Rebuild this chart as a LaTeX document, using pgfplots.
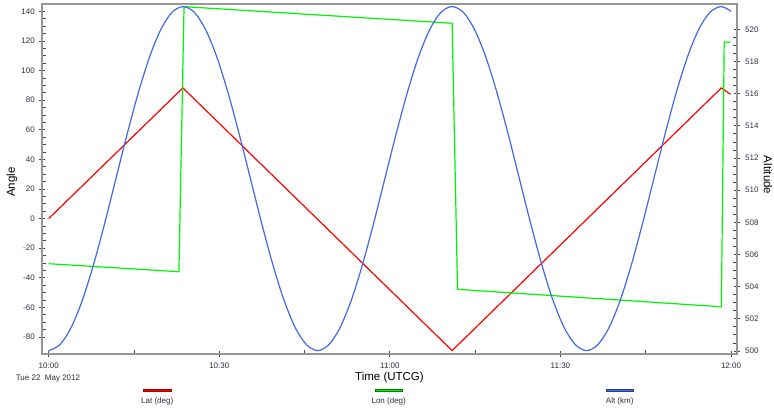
\documentclass[border=0pt]{standalone}
\usepackage{pgfplots}
\pgfplotsset{compat=1.18}
\usepackage{fontspec}
\setmainfont{Liberation Sans}

\definecolor{latred}{RGB}{255,0,0}
\definecolor{longreen}{RGB}{0,245,0}
\definecolor{altblue}{RGB}{65,105,225}
\definecolor{framegray}{RGB}{150,150,150}
\definecolor{tickgray}{RGB}{70,70,70}
\definecolor{labelink}{RGB}{45,45,65}

\newcommand{\smallfont}{\fontsize{8}{9.5}\selectfont}
\newcommand{\labelfont}{\fontsize{11.5}{13}\selectfont}

\pgfplotsset{
  orbitframe/.style={
    at={(0pt,0pt)}, anchor=south west,
    scale only axis, width=695pt, height=350pt,
    xmin=-1.18, xmax=121.05,
    axis line style={framegray, line width=1.6pt},
    tick style={tickgray, line width=0.8pt},
    tick align=inside,
    major tick length=6.5pt, minor tick length=3.8pt,
    ticklabel style={font=\smallfont, text=labelink},
    label style={font=\labelfont, text=black},
    /pgf/number format/assume math mode=true,
  },
}

\begin{document}
\begin{tikzpicture}
\path[use as bounding box] (-42pt,-58pt) rectangle (732pt,354pt);

% Latitude and longitude against the left (Angle) scale
\begin{axis}[
  orbitframe,
  ymin=-91.5, ymax=145,
  xtick={0,30,60,90,120},
  xticklabels={10:00,10:30,11:00,11:30,12:00},
  minor x tick num=1,
  ytick={-80,-60,...,140},
  minor y tick num=3,
  xtick pos=left, ytick pos=left,
  major x tick style={yshift=-3.5pt},
  major y tick style={xshift=-3.2pt},
  xticklabel style={inner sep=0pt, yshift=-9pt, anchor=north},
  yticklabel style={inner sep=0pt, xshift=-7pt, anchor=east},
  xlabel={Time (UTCG)},
  ylabel={Angle},
  xlabel style={at={(axis description cs:0.5,-0.068)}, anchor=center},
  ylabel style={at={(axis description cs:-0.0432,0.491)}, anchor=center},
]
\addplot[latred, line width=1.2pt] coordinates {
  (0,0) (23.6,88.3) (70.95,-89.2) (118.3,88.3) (119.9,84.0)
};
\addplot[longreen, line width=1.2pt] coordinates {
  (0,-30.5) (22.9,-35.9) (23.8,143.2) (70.95,132.0) (71.9,-47.8)
  (118.3,-59.6) (118.8,119.3) (119.9,119.1)
};
\end{axis}

% Altitude against the right scale
\begin{axis}[
  orbitframe,
  ymin=499.81, ymax=521.58,
  axis x line=none,
  axis y line*=right,
  ytick={500,502,...,520},
  minor y tick num=3,
  major y tick style={xshift=3.2pt},
  yticklabel style={inner sep=0pt, xshift=8pt, anchor=west},
  ylabel={Altitude},
  ylabel style={at={(axis description cs:1.0446,0.511)}, anchor=center, rotate=180},
]
\addplot[altblue, line width=1.2pt, smooth] coordinates {
  (0,500.02) (1.971,500.39) (3.942,501.45) (5.913,503.15) (7.883,505.37)
  (9.854,507.95) (11.825,510.72) (13.796,513.49) (15.767,516.07) (17.738,518.29)
  (19.708,519.99) (21.679,521.06) (23.650,521.42) (25.621,521.06) (27.592,519.99)
  (29.563,518.29) (31.533,516.07) (33.504,513.49) (35.475,510.72) (37.446,507.95)
  (39.417,505.37) (41.388,503.15) (43.358,501.45) (45.329,500.39) (47.300,500.02)
  (49.271,500.39) (51.242,501.45) (53.213,503.15) (55.183,505.37) (57.154,507.95)
  (59.125,510.72) (61.096,513.49) (63.067,516.07) (65.038,518.29) (67.008,519.99)
  (68.979,521.06) (70.950,521.42) (72.921,521.06) (74.892,519.99) (76.863,518.29)
  (78.833,516.07) (80.804,513.49) (82.775,510.72) (84.746,507.95) (86.717,505.37)
  (88.688,503.15) (90.658,501.45) (92.629,500.39) (94.600,500.02) (96.571,500.39)
  (98.542,501.45) (100.513,503.15) (102.483,505.37) (104.454,507.95) (106.425,510.72)
  (108.396,513.49) (110.367,516.07) (112.338,518.29) (114.308,519.99) (116.279,521.06)
  (118.250,521.42) (120,521.13)
};
\end{axis}

% date under the first time label
\node[font=\smallfont, text=labelink] at (6pt,-24.5pt) {Tue 22\ \ May 2012};

% legend along the bottom
\filldraw[fill=latred, draw=latred!60!black, line width=0.4pt]
  (101.3pt,-37.7pt) rectangle (129pt,-35.3pt);
\node[font=\smallfont, text=labelink] at (115.2pt,-47pt) {Lat (deg)};
\filldraw[fill=longreen, draw=longreen!50!black, line width=0.4pt]
  (333pt,-37.7pt) rectangle (360.3pt,-35.3pt);
\node[font=\smallfont, text=labelink] at (346.7pt,-47pt) {Lon (deg)};
\filldraw[fill=altblue, draw=altblue!60!black, line width=0.4pt]
  (564pt,-37.7pt) rectangle (591.3pt,-35.3pt);
\node[font=\smallfont, text=labelink] at (577.7pt,-47pt) {Alt (km)};
\end{tikzpicture}
\end{document}
